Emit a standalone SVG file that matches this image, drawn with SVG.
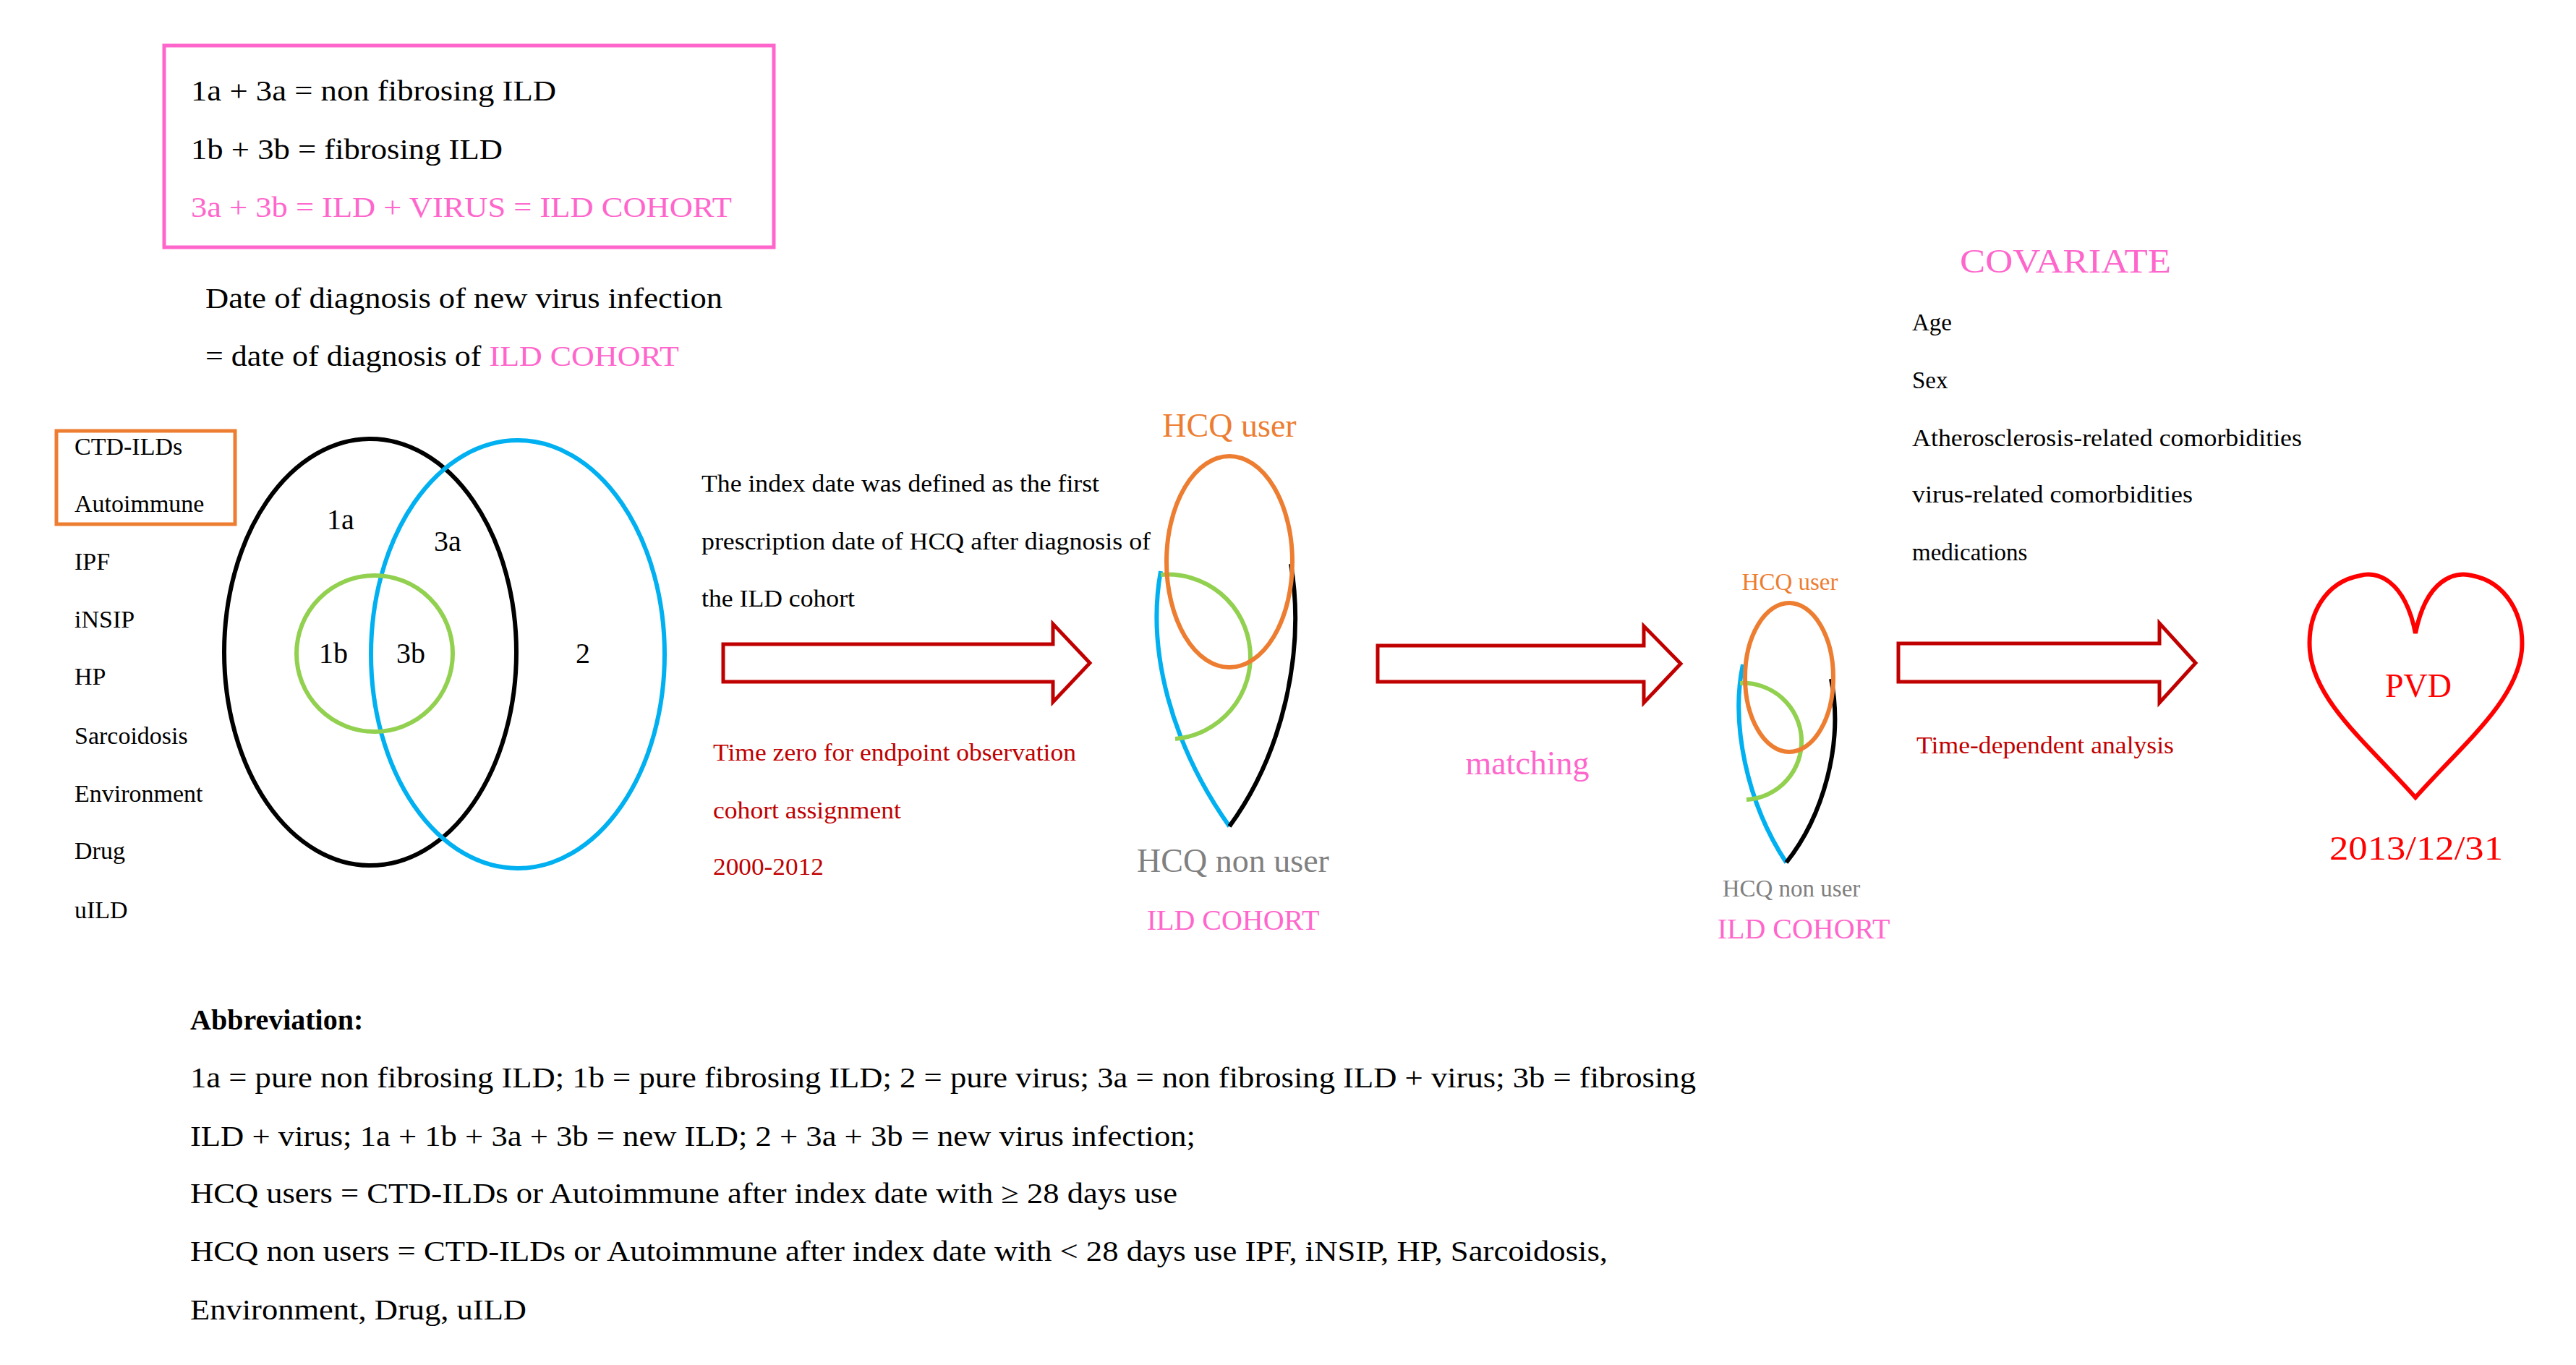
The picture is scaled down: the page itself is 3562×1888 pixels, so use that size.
<svg xmlns="http://www.w3.org/2000/svg" width="3562" height="1888" viewBox="0 0 3562 1888">
<style>
text{font-family:"Liberation Serif","Times New Roman",serif;fill:#000}
.pk{fill:#ff66cc}.rd{fill:#c00000}.or{fill:#ed7d31}.gy{fill:#808080}.hr{fill:#ff0000}
.f40{font-size:40px}.f34{font-size:34px}.f33{font-size:33px}.f46{font-size:46px}
.arrow{fill:#fff;stroke:#c00000;stroke-width:5;stroke-linejoin:miter}
.ln{fill:none;stroke-width:6}
</style>
<rect width="3562" height="1888" fill="#fff"/>
<g id="legend-box">
<rect x="227" y="63" width="843" height="279" fill="none" stroke="#ff66cc" stroke-width="5"/>
<text class="f40" x="264" y="139" textLength="505" lengthAdjust="spacingAndGlyphs">1a + 3a = non fibrosing ILD</text>
<text class="f40" x="264" y="220" textLength="431" lengthAdjust="spacingAndGlyphs">1b + 3b = fibrosing ILD</text>
<text class="f40 pk" x="264" y="300" textLength="748" lengthAdjust="spacingAndGlyphs">3a + 3b = ILD + VIRUS = ILD COHORT</text>
</g>
<g id="date-note">
<text class="f40" x="284" y="426" textLength="715" lengthAdjust="spacingAndGlyphs">Date of diagnosis of new virus infection</text>
<text class="f40" x="284" y="506" textLength="655" lengthAdjust="spacingAndGlyphs">= date of diagnosis of <tspan class="pk">ILD COHORT</tspan></text>
</g>
<g id="ild-list">
<rect x="78" y="596" width="247" height="129" fill="none" stroke="#ed7d31" stroke-width="5"/>
<text class="f34" x="103" y="629">CTD-ILDs</text>
<text class="f34" x="103" y="708">Autoimmune</text>
<text class="f34" x="103" y="788">IPF</text>
<text class="f34" x="103" y="868">iNSIP</text>
<text class="f34" x="103" y="947">HP</text>
<text class="f34" x="103" y="1029">Sarcoidosis</text>
<text class="f34" x="103" y="1109">Environment</text>
<text class="f34" x="103" y="1188">Drug</text>
<text class="f34" x="103" y="1270">uILD</text>
</g>
<g id="venn">
<ellipse cx="512" cy="902" rx="202" ry="295" class="ln" stroke="#000"/>
<ellipse cx="716" cy="905" rx="203" ry="296" class="ln" stroke="#00b0f0"/>
<circle cx="518" cy="904" r="108" class="ln" stroke="#92d050"/>
<text class="f40" x="452" y="732">1a</text>
<text class="f40" x="600" y="762">3a</text>
<text class="f40" x="441" y="917">1b</text>
<text class="f40" x="548" y="917">3b</text>
<text class="f40" x="796" y="917">2</text>
</g>
<g id="index-note">
<text class="f33" x="970" y="680" textLength="550" lengthAdjust="spacingAndGlyphs">The index date was defined as the first</text>
<text class="f33" x="970" y="760" textLength="621" lengthAdjust="spacingAndGlyphs">prescription date of HCQ after diagnosis of</text>
<text class="f33" x="970" y="839" textLength="212" lengthAdjust="spacingAndGlyphs">the ILD cohort</text>
<text class="f33 rd" x="986" y="1052" textLength="502" lengthAdjust="spacingAndGlyphs">Time zero for endpoint observation</text>
<text class="f33 rd" x="986" y="1132" textLength="260" lengthAdjust="spacingAndGlyphs">cohort assignment</text>
<text class="f33 rd" x="986" y="1210" textLength="153" lengthAdjust="spacingAndGlyphs">2000-2012</text>
</g>
<g id="connectors">
<polygon class="arrow" points="1000,891 1456,891 1456,863 1507,917 1456,971 1456,943 1000,943"/>
<polygon class="arrow" points="1905,893 2273,893 2273,866 2324,918 2273,972 2273,943 1905,943"/>
<polygon class="arrow" points="2625,890 2986,890 2986,862 3036,917 2986,972 2986,943 2625,943"/>
</g>
<g id="cohort-left">
<text class="f46 or" x="1700" y="604" text-anchor="middle">HCQ user</text>
<path class="ln" stroke="#00b0f0" d="M1605,790 C1585,900 1620,1030 1700,1143"/>
<path class="ln" stroke="#000" d="M1785,780 C1805,900 1775,1040 1700,1143"/>
<path class="ln" stroke="#92d050" d="M1605,795 A113,113 0 0 1 1625,1022"/>
<ellipse cx="1700" cy="777" rx="87" ry="146" class="ln" stroke="#ed7d31"/>
<text class="f46 gy" x="1705" y="1206" text-anchor="middle">HCQ non user</text>
<text class="f40 pk" x="1705" y="1286" text-anchor="middle">ILD COHORT</text>
</g>
<g id="matching">
<text class="f46 pk" x="2112" y="1071" text-anchor="middle">matching</text>
</g>
<g id="cohort-matched">
<text class="f33 or" x="2475" y="816" text-anchor="middle">HCQ user</text>
<path class="ln" stroke="#00b0f0" stroke-width="5" d="M2410,919 C2393,1000 2415,1110 2470,1193"/>
<path class="ln" stroke="#000" stroke-width="5" d="M2532,939 C2550,1030 2520,1130 2470,1193"/>
<path class="ln" stroke="#92d050" stroke-width="5" d="M2406,945 A80,80 0 0 1 2415,1106"/>
<ellipse cx="2474" cy="937" rx="61" ry="103" class="ln" stroke="#ed7d31" stroke-width="5"/>
<text class="f33 gy" x="2477" y="1240" text-anchor="middle">HCQ non user</text>
<text class="f40 pk" x="2494" y="1298" text-anchor="middle">ILD COHORT</text>
</g>
<g id="covariate">
<text class="f46 pk" x="2710" y="377" textLength="292" lengthAdjust="spacingAndGlyphs">COVARIATE</text>
<text class="f33" x="2644" y="457">Age</text>
<text class="f33" x="2644" y="537">Sex</text>
<text class="f33" x="2644" y="617" textLength="539" lengthAdjust="spacingAndGlyphs">Atherosclerosis-related comorbidities</text>
<text class="f33" x="2644" y="695" textLength="388" lengthAdjust="spacingAndGlyphs">virus-related comorbidities</text>
<text class="f33" x="2644" y="775">medications</text>
<text class="f33 rd" x="2650" y="1042" textLength="356" lengthAdjust="spacingAndGlyphs">Time-dependent analysis</text>
</g>
<g id="pvd">
<path fill="none" stroke="#ff0000" stroke-width="6" d="M3340,876 C3325,800 3285,790 3264,796 C3215,805 3190,850 3194,900 C3200,970 3275,1030 3340,1103 C3405,1030 3480,970 3487,900 C3491,850 3465,805 3418,796 C3395,790 3355,800 3340,876 Z"/>
<text class="f46 hr" x="3344" y="964" text-anchor="middle">PVD</text>
<text class="f46 hr" x="3341" y="1189" text-anchor="middle" textLength="240" lengthAdjust="spacingAndGlyphs">2013/12/31</text>
</g>
<g id="abbreviation">
<text class="f40" x="263" y="1424" font-weight="bold">Abbreviation:</text>
<text class="f40" x="263" y="1504" textLength="2082" lengthAdjust="spacingAndGlyphs">1a = pure non fibrosing ILD; 1b = pure fibrosing ILD; 2 = pure virus; 3a = non fibrosing ILD + virus; 3b = fibrosing</text>
<text class="f40" x="263" y="1585" textLength="1390" lengthAdjust="spacingAndGlyphs">ILD + virus; 1a + 1b + 3a + 3b = new ILD; 2 + 3a + 3b = new virus infection;</text>
<text class="f40" x="263" y="1664" textLength="1365" lengthAdjust="spacingAndGlyphs">HCQ users = CTD-ILDs or Autoimmune after index date with ≥ 28 days use</text>
<text class="f40" x="263" y="1744" textLength="1960" lengthAdjust="spacingAndGlyphs">HCQ non users = CTD-ILDs or Autoimmune after index date with &lt; 28 days use IPF, iNSIP, HP, Sarcoidosis,</text>
<text class="f40" x="263" y="1825" textLength="465" lengthAdjust="spacingAndGlyphs">Environment, Drug, uILD</text>
</g>
</svg>
